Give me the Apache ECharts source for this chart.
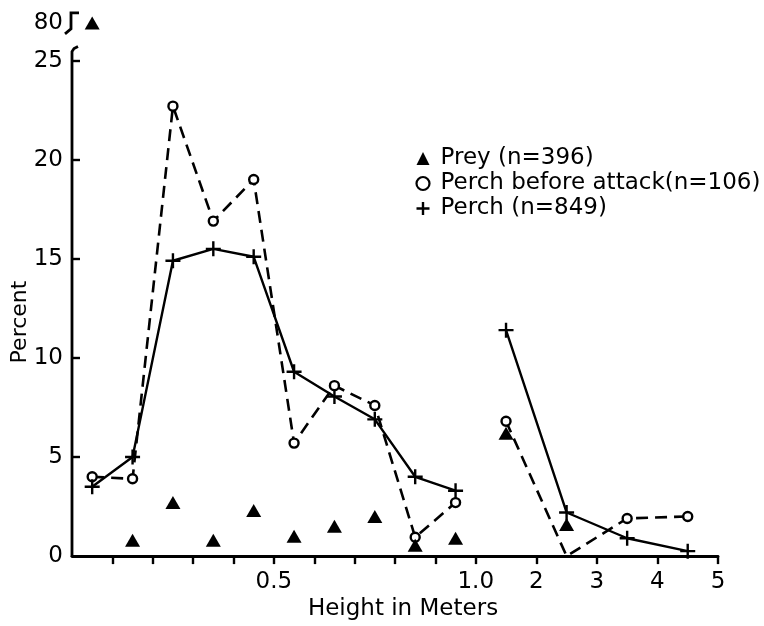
<!DOCTYPE html>
<html>
<head>
<meta charset="utf-8">
<script src="https://cdn.jsdelivr.net/npm/echarts@6/dist/echarts.min.js"></script>
<style>
html,body{margin:0;padding:0;background:#fff;}
#c{width:764px;height:626px;}
</style>
</head>
<body>
<div id="c"></div>
<script>
// ---- data ----
const heights = [0.05, 0.15, 0.25, 0.35, 0.45, 0.55, 0.65, 0.75, 0.85, 0.95, 1.5, 2.5, 3.5, 4.5];
const prey        = [80, 0.8, 2.7, 0.8, 2.3, 1.0, 1.5, 2.0, 0.55, 0.9, 6.2, 1.6, null, null];
const perchBefore = [4.0, 3.9, 22.7, 16.9, 19.0, 5.7, 8.6, 7.6, 0.95, 2.7, 6.8, 0, 1.9, 2.0];
const perch       = [3.5, 5.0, 14.9, 15.5, 15.1, 9.3, 8.05, 6.9, 4.0, 3.3, 11.4, 2.2, 0.9, 0.25];
const xTickLabels = [0.5, 1.0, 2, 3, 4, 5];
const xMinorTicks = [0.1, 0.2, 0.3, 0.4, 0.5, 0.6, 0.7, 0.8, 0.9, 1.0, 2, 3, 4, 5];
const yTickLabels = [0, 5, 10, 15, 20, 25, 80];
const names = ['Prey (n=396)', 'Perch before attack(n=106)', 'Perch (n=849)'];

// piecewise x scale: 0-1 m stretched, 1-5 m compressed
function ux(h) { return h <= 1 ? h * 10 : 10 + (h - 1) * 1.5; }
function hx(u) { return u <= 10 ? u / 10 : 1 + (u - 10) / 1.5; }
// broken y axis: values above 25 shifted down to sit just above the break
const BREAK_SHIFT = 53.1;
function uy(v) { return v > 25 ? v - BREAK_SHIFT : v; }
function vy(u) { return u > 25.5 ? u + BREAK_SHIFT : u; }

function fmtX(u) {
  const h = Math.round(hx(u) * 100) / 100;
  return h < 1 ? h.toFixed(1) : (h === 1 ? '1.0' : String(h));
}

const GAP_AT = 1.0; // line gap between 0.95 and 1.5
function lineData(vals) {
  const out = [];
  heights.forEach((h, i) => {
    if (h > GAP_AT && heights[i - 1] < GAP_AT) out.push([ux(GAP_AT), '-']);
    const v = vals[i];
    if (v === null) return;
    const item = { value: [ux(h), uy(v)] };
    if (v === 0) item.symbolSize = 0;
    out.push(item);
  });
  return out;
}
function scatterData(vals) {
  const out = [];
  heights.forEach((h, i) => { if (vals[i] !== null) out.push([ux(h), uy(vals[i])]); });
  return out;
}

const FONT = '"DejaVu Sans", "Liberation Sans", sans-serif';
const PLUS = 'path://M0,-10 L0,10 M-10,0 L10,0';

const chart = echarts.init(document.getElementById('c'), null, { renderer: 'canvas' });
chart.setOption({
  animation: false,
  backgroundColor: '#fff',
  textStyle: { fontFamily: FONT, color: '#000' },
  grid: { left: 72, right: 46, top: 11, bottom: 62, containLabel: false },
  legend: {
    orient: 'vertical',
    left: 409, top: 142,
    itemGap: 2,
    itemWidth: 13, itemHeight: 13,
    textStyle: { fontFamily: FONT, fontSize: 23, color: '#000', lineHeight: 22, padding: [0, 0, 0, 6] },
    data: [
      { name: names[0], icon: 'triangle', itemStyle: { color: '#000', borderWidth: 0, opacity: 1 } },
      { name: names[1], icon: 'circle', itemStyle: { color: '#fff', borderColor: '#000', borderWidth: 2.2 } },
      { name: names[2], icon: PLUS, itemStyle: { color: 'none', borderColor: '#000', borderWidth: 2.4 } }
    ]
  },
  xAxis: {
    type: 'value', min: 0, max: 16,
    splitLine: { show: false },
    axisLine: { show: true, lineStyle: { color: '#000', width: 2.8 } },
    axisTick: { show: true, inside: false, length: 8, lineStyle: { color: '#000', width: 2.4 },
      customValues: xMinorTicks.map(ux) },
    axisLabel: { customValues: xTickLabels.map(ux), formatter: fmtX, margin: 14,
      fontSize: 23, color: '#000', fontFamily: FONT },
    name: 'Height in Meters', nameLocation: 'middle', nameGap: 36,
    nameTextStyle: { fontSize: 23, color: '#000', fontFamily: FONT, padding: [0, 0, 0, 16] }
  },
  yAxis: {
    type: 'value', min: 0, max: 27.5,
    splitLine: { show: false },
    axisLine: { show: false },
    axisTick: { show: true, inside: true, length: 8, lineStyle: { color: '#000', width: 2.4 },
      customValues: [5, 10, 15, 20, 25] },
    axisLabel: { customValues: yTickLabels.map(uy), formatter: v => String(Math.round(vy(v))),
      margin: 9, fontSize: 23, color: '#000', fontFamily: FONT },
  },
  series: [
    {
      name: names[0], type: 'scatter', symbol: 'triangle', symbolSize: [15, 13],
      itemStyle: { color: '#000', opacity: 1 }, clip: false, z: 3,
      data: scatterData(prey)
    },
    {
      name: names[1], type: 'line', symbol: 'circle', symbolSize: 9, showSymbol: true,
      connectNulls: false,
      itemStyle: { color: '#fff', borderColor: '#000', borderWidth: 2.4 },
      lineStyle: { color: '#000', width: 2.6, type: [12, 7] },
      z: 2,
      data: lineData(perchBefore)
    },
    {
      name: names[2], type: 'line', symbol: PLUS, symbolSize: 15, showSymbol: true,
      connectNulls: false,
      itemStyle: { color: 'none', borderColor: '#000', borderWidth: 2.4 },
      lineStyle: { color: '#000', width: 2.4 },
      z: 2,
      data: lineData(perch)
    }
  ]
});

// broken axis decoration & y title
const p0 = chart.convertToPixel({ gridIndex: 0 }, [0, 0]);
const p25 = chart.convertToPixel({ gridIndex: 0 }, [0, 25]);
const p80 = chart.convertToPixel({ gridIndex: 0 }, [0, uy(80)]);
const ax = p0[0], y0 = p0[1], y25 = p25[1], y80 = p80[1];
chart.setOption({
  graphic: [
    { type: 'polyline', silent: true, z: 10,
      shape: { points: [[ax, y0 + 1], [ax, y25 - 9], [ax + 2, y25 - 12], [ax + 6, y25 - 14]] },
      style: { stroke: '#000', lineWidth: 2.8, fill: null } },
    { type: 'polyline', silent: true, z: 10,
      shape: { points: [[ax + 7, y80 - 10], [ax - 1, y80 - 10], [ax - 1, y80 + 6], [ax - 7, y80 + 11]] },
      style: { stroke: '#000', lineWidth: 2.8, fill: null } },
    { type: 'text', silent: true, x: 20, y: 322, rotation: Math.PI / 2,
      style: { text: 'Percent', font: '22px ' + FONT, fill: '#000', align: 'center', verticalAlign: 'middle' } }
  ]
});
</script>
</body>
</html>
